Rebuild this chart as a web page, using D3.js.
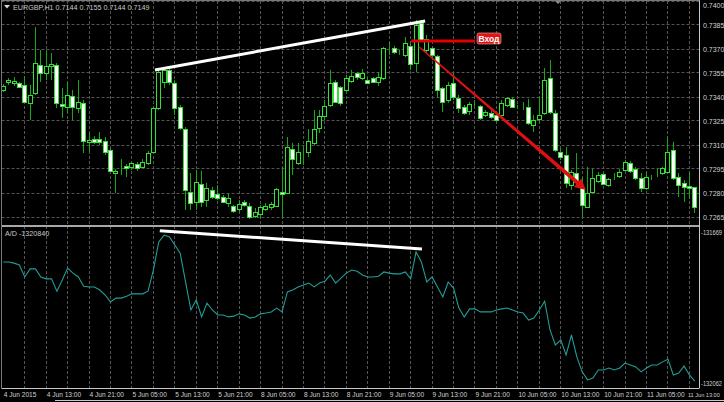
<!DOCTYPE html>
<html><head><meta charset="utf-8">
<script src="https://cdn.jsdelivr.net/npm/d3@7"></script>
<style>
html,body{margin:0;padding:0;background:#000;overflow:hidden}
svg{display:block}
text{font-family:"Liberation Sans",Arial,sans-serif}
</style></head><body>
<svg id="c" width="724" height="402"></svg>
<script>
// ---------------- DATA ----------------
const symbolTitle = "EURGBP,H1";
const quoteText = "0.7144 0.7155 0.7144 0.7149";
const indicatorLabel = "A/D -1320840";

// H1 candles [open, high, low, close], bar 0 = 4 Jun 2015 05:00
const candles = [
[0.73444,0.73481,0.73431,0.73469],[0.73494,0.73519,0.73475,0.73506],[0.73488,0.73525,0.73469,0.73500],[0.73488,0.73494,0.73456,0.73463],
[0.73475,0.73531,0.73363,0.73369],[0.73363,0.73475,0.73256,0.73412],[0.73425,0.73837,0.73412,0.73612],[0.73600,0.73694,0.73494,0.73550],
[0.73550,0.73694,0.73506,0.73594],[0.73594,0.73675,0.73506,0.73606],[0.73600,0.73612,0.73331,0.73363],[0.73356,0.73456,0.73269,0.73344],
[0.73338,0.73494,0.73300,0.73412],[0.73406,0.73444,0.73256,0.73338],[0.73331,0.73506,0.73300,0.73369],[0.73363,0.73381,0.73050,0.73125],
[0.73119,0.73175,0.73056,0.73131],[0.73138,0.73156,0.73106,0.73119],[0.73138,0.73181,0.73100,0.73119],[0.73125,0.73150,0.73038,0.73056],
[0.73069,0.73081,0.72931,0.72938],[0.72925,0.72950,0.72800,0.72938],[0.72950,0.73012,0.72913,0.72947],[0.72969,0.72981,0.72900,0.72959],
[0.72963,0.72994,0.72944,0.72988],[0.72981,0.72994,0.72938,0.72956],[0.72963,0.73012,0.72956,0.72994],[0.72988,0.73063,0.72975,0.73050],
[0.73056,0.73338,0.73050,0.73331],[0.73331,0.73569,0.73319,0.73556],[0.73494,0.73581,0.73456,0.73569],[0.73569,0.73581,0.73475,0.73494],
[0.73488,0.73506,0.73288,0.73331],[0.73338,0.73350,0.73194,0.73206],[0.73200,0.73212,0.72694,0.72819],[0.72806,0.72925,0.72694,0.72738],
[0.72744,0.72944,0.72694,0.72869],[0.72856,0.72938,0.72713,0.72744],[0.72756,0.72863,0.72713,0.72831],[0.72819,0.72838,0.72763,0.72775],
[0.72794,0.72850,0.72756,0.72769],[0.72775,0.72788,0.72738,0.72744],[0.72738,0.72800,0.72713,0.72769],[0.72719,0.72725,0.72675,0.72688],
[0.72700,0.72756,0.72681,0.72731],[0.72744,0.72756,0.72713,0.72725],[0.72719,0.72738,0.72638,0.72650],[0.72656,0.72706,0.72644,0.72681],
[0.72669,0.72725,0.72644,0.72713],[0.72700,0.72738,0.72688,0.72719],[0.72713,0.72744,0.72694,0.72731],[0.72719,0.72831,0.72713,0.72825],
[0.72806,0.72963,0.72644,0.72794],[0.72800,0.73150,0.72794,0.73088],[0.73075,0.73113,0.72913,0.73012],[0.72988,0.73113,0.72975,0.73056],
[0.73050,0.73094,0.72975,0.73050],[0.73056,0.73200,0.73025,0.73125],[0.73113,0.73319,0.73100,0.73200],[0.73206,0.73319,0.73175,0.73281],
[0.73281,0.73381,0.73256,0.73344],[0.73350,0.73569,0.73338,0.73488],[0.73494,0.73506,0.73363,0.73369],[0.73463,0.73469,0.73344,0.73363],
[0.73444,0.73538,0.73431,0.73519],[0.73500,0.73569,0.73488,0.73531],[0.73550,0.73556,0.73506,0.73525],[0.73519,0.73575,0.73506,0.73550],
[0.73506,0.73525,0.73481,0.73488],[0.73519,0.73525,0.73488,0.73494],[0.73494,0.73556,0.73469,0.73525],[0.73519,0.73713,0.73506,0.73706],
[0.73694,0.73744,0.73663,0.73691],[0.73706,0.73719,0.73669,0.73681],[0.73675,0.73694,0.73663,0.73675],[0.73663,0.73775,0.73650,0.73738],
[0.73719,0.73738,0.73569,0.73606],[0.73612,0.73881,0.73556,0.73850],[0.73863,0.73881,0.73744,0.73756],[0.73694,0.73788,0.73675,0.73763],
[0.73706,0.73713,0.73631,0.73663],[0.73656,0.73663,0.73400,0.73444],[0.73456,0.73463,0.73306,0.73369],[0.73381,0.73494,0.73363,0.73475],
[0.73488,0.73550,0.73381,0.73400],[0.73394,0.73412,0.73300,0.73331],[0.73338,0.73350,0.73288,0.73300],[0.73313,0.73369,0.73288,0.73356],
[0.73363,0.73381,0.73338,0.73363],[0.73344,0.73350,0.73256,0.73269],[0.73288,0.73319,0.73275,0.73306],[0.73300,0.73313,0.73263,0.73275],
[0.73288,0.73300,0.73244,0.73256],[0.73288,0.73381,0.73275,0.73363],[0.73350,0.73400,0.73338,0.73394],[0.73388,0.73400,0.73331,0.73338],
[0.73338,0.73350,0.73325,0.73338],[0.73344,0.73369,0.73319,0.73344],[0.73338,0.73388,0.73225,0.73238],[0.73225,0.73288,0.73181,0.73256],
[0.73263,0.73400,0.73238,0.73288],[0.73300,0.73581,0.73288,0.73506],[0.73519,0.73631,0.73294,0.73306],[0.73300,0.73319,0.73056,0.73069],
[0.73056,0.73081,0.73006,0.73025],[0.73038,0.73088,0.72831,0.72863],[0.72850,0.72944,0.72819,0.72931],[0.72925,0.73050,0.72850,0.72869],
[0.72831,0.72900,0.72650,0.72725],[0.72713,0.72963,0.72706,0.72800],[0.72806,0.72950,0.72800,0.72894],[0.72875,0.72931,0.72863,0.72913],
[0.72919,0.72925,0.72850,0.72856],[0.72850,0.72894,0.72838,0.72888],[0.72900,0.72925,0.72881,0.72900],[0.72906,0.72950,0.72894,0.72931],
[0.72944,0.73006,0.72938,0.72994],[0.72988,0.73000,0.72925,0.72938],[0.72950,0.72963,0.72881,0.72894],[0.72894,0.72925,0.72806,0.72831],
[0.72831,0.72931,0.72819,0.72900],[0.72906,0.72913,0.72881,0.72906],[0.72925,0.72950,0.72900,0.72925],[0.72925,0.72963,0.72913,0.72956],
[0.72931,0.73150,0.72925,0.73056],[0.73069,0.73119,0.72881,0.72894],[0.72900,0.72925,0.72775,0.72850],[0.72863,0.72881,0.72744,0.72838],
[0.72844,0.72931,0.72769,0.72831],[0.72838,0.72838,0.72675,0.72713]
];

// Accumulation/Distribution values per bar
const adValues = [
-131747,-131747,-131750,-131755,-131786,-131765,-131765,-131786,-131791,-131791,
-131823,-131794,-131763,-131776,-131786,-131810,-131812,-131812,-131820,-131833,
-131851,-131841,-131841,-131836,-131830,-131830,-131830,-131823,-131768,-131695,
-131677,-131682,-131703,-131724,-131799,-131872,-131846,-131890,-131854,-131872,
-131885,-131885,-131890,-131888,-131882,-131885,-131893,-131890,-131882,-131880,
-131877,-131867,-131877,-131825,-131820,-131812,-131807,-131802,-131812,-131802,
-131797,-131781,-131802,-131789,-131776,-131768,-131771,-131781,-131786,-131786,
-131784,-131773,-131776,-131778,-131778,-131773,-131791,-131721,-131747,-131799,
-131786,-131812,-131838,-131799,-131815,-131867,-131890,-131869,-131869,-131877,
-131877,-131877,-131872,-131869,-131867,-131872,-131877,-131880,-131898,-131893,
-131872,-131849,-131924,-131963,-131950,-131989,-131937,-131994,-132033,-132054,
-132049,-132028,-132028,-132023,-132028,-132023,-132010,-132015,-132020,-132033,
-132023,-132015,-132015,-132007,-132000,-132041,-132036,-132018,-132041,-132057
];

const priceTicks = ["0.7400","0.7385","0.7370","0.7355","0.7340","0.7325","0.7310","0.7295","0.7280","0.7265"];
const adTicks = [-131669, -132062];
const timeLabels = ["4 Jun 2015","4 Jun 13:00","4 Jun 21:00","5 Jun 05:00","5 Jun 13:00","5 Jun 21:00",
  "8 Jun 05:00","8 Jun 13:00","8 Jun 21:00","9 Jun 05:00","9 Jun 13:00","9 Jun 21:00",
  "10 Jun 05:00","10 Jun 13:00","10 Jun 21:00","11 Jun 05:00","11 Jun 13:00"];
const barsPerLabel = 8;
const barsPerGrid = 4;

// Drawn annotations (bar index, value)
const priceTrend = [[28.3, 0.73569],[78.7, 0.73875]];
const entryLine = [[76.1, 0.73750],[88.0, 0.73750]];
const entryText = "Вход";
const arrowLine = [[77.6, 0.73713],[108.7, 0.72819]];
const adTrend = [[29.2, -131666],[78.1, -131713]];

// ---------------- CHART ----------------
const svg = d3.select("#c");
const left = 1.5, right = 699.5, topY = 1, sepY = 226, adTop = 229, bottomY = 388;

const x = d3.scaleLinear().domain([0, 128]).range([3.3, 689.4]);
const yP = d3.scaleLinear().domain([0.7265, 0.7400]).range([217, 1]);
const yA = d3.scaleLinear().domain([-132062, -131669]).range([383, 232]);
const px = v => Math.floor(v) + 0.5;

svg.append("rect").attr("width",724).attr("height",402).attr("fill","#000");

const defs = svg.append("defs");
defs.append("clipPath").attr("id","cpTop").append("rect")
  .attr("x",left).attr("y",topY).attr("width",right-left).attr("height",sepY-topY-1);
defs.append("clipPath").attr("id","cpAd").append("rect")
  .attr("x",left).attr("y",adTop).attr("width",right-left).attr("height",bottomY-adTop);

const gridColor = "#555";
// horizontal grid (price panel)
svg.append("g").selectAll("line").data(priceTicks).join("line")
  .attr("x1",left).attr("x2",right)
  .attr("y1",d=>px(yP(+d))).attr("y2",d=>px(yP(+d)))
  .attr("stroke",gridColor).attr("stroke-dasharray","3,2");
// vertical grid
const gridIdx = d3.range(barsPerGrid, 130, barsPerGrid);
svg.append("g").selectAll("line").data(gridIdx).join("line")
  .attr("x1",d=>px(x(d))).attr("x2",d=>px(x(d)))
  .attr("y1",topY).attr("y2",bottomY)
  .attr("stroke",gridColor).attr("stroke-dasharray","3,2");

// candles
const cg = svg.append("g").attr("clip-path","url(#cpTop)");
const wickColor = "#17a817", edgeColor = "#35e035";
cg.selectAll("line.w").data(candles).join("line").attr("class","w")
  .attr("x1",(d,i)=>px(x(i))).attr("x2",(d,i)=>px(x(i)))
  .attr("y1",d=>yP(d[1])).attr("y2",d=>yP(d[2]))
  .attr("stroke",wickColor).attr("stroke-width",1);
cg.selectAll("rect.b").data(candles).join("rect").attr("class","b")
  .attr("x",(d,i)=>Math.floor(x(i))-1.5)
  .attr("y",d=>Math.round(yP(Math.max(d[0],d[3])))+0.5)
  .attr("width",4)
  .attr("height",d=>Math.max(0, Math.round(yP(Math.min(d[0],d[3]))) - Math.round(yP(Math.max(d[0],d[3])))))
  .attr("fill",d=> d[3] >= d[0] ? "#000" : "#fff")
  .attr("stroke",edgeColor).attr("stroke-width",1);

// A/D line
const ag = svg.append("g").attr("clip-path","url(#cpAd)");
ag.append("path").datum(adValues)
  .attr("d", d3.line().x((d,i)=>x(i)).y(d=>yA(d)))
  .attr("fill","none").attr("stroke","#1f9e98").attr("stroke-width",1.1);

// panel frame
svg.append("rect").attr("x",left-0.5).attr("y",sepY-1).attr("width",right-left+0.5).attr("height",2).attr("fill","#a8a8a8");
svg.append("line").attr("x1",right).attr("x2",right).attr("y1",0).attr("y2",bottomY).attr("stroke","#c8c8c8");
svg.append("line").attr("x1",left).attr("x2",left).attr("y1",0).attr("y2",bottomY).attr("stroke","#7a7a7a");
svg.append("line").attr("x1",left).attr("x2",right).attr("y1",0.5).attr("y2",0.5).attr("stroke","#7a7a7a");
svg.append("line").attr("x1",left).attr("x2",right).attr("y1",bottomY+0.5).attr("y2",bottomY+0.5).attr("stroke","#c8c8c8");
svg.append("line").attr("x1",55).attr("x2",724).attr("y1",400.5).attr("y2",400.5).attr("stroke","#c8c8c8");

// annotations
const lineP = d3.line().x(d=>x(d[0])).y(d=>yP(d[1]));
const lineA = d3.line().x(d=>x(d[0])).y(d=>yA(d[1]));
svg.append("path").attr("d",lineP(priceTrend)).attr("stroke","#fff").attr("stroke-width",3).attr("fill","none");
svg.append("path").attr("d",lineA(adTrend)).attr("stroke","#fff").attr("stroke-width",3).attr("fill","none");
svg.append("path").attr("d",lineP(entryLine)).attr("stroke","#e00000").attr("stroke-width",3).attr("fill","none");

// arrow (tapered)
{
  const x0=x(arrowLine[0][0]), y0=yP(arrowLine[0][1]), x1=x(arrowLine[1][0]), y1=yP(arrowLine[1][1]);
  const dx=x1-x0, dy=y1-y0, L=Math.hypot(dx,dy), ux=dx/L, uy=dy/L, nx=-uy, ny=ux;
  const headLen=11, headW=5.5, w0=0.7, w1=1.9;
  const bx=x1-ux*headLen, by=y1-uy*headLen;
  const pts=[[x0+nx*w0,y0+ny*w0],[bx+nx*w1,by+ny*w1],[bx+nx*headW,by+ny*headW],[x1,y1],
             [bx-nx*headW,by-ny*headW],[bx-nx*w1,by-ny*w1],[x0-nx*w0,y0-ny*w0]];
  svg.append("polygon").attr("points",pts.map(p=>p.join(",")).join(" ")).attr("fill","#e01010");
}

// entry label
{
  const lx = x(entryLine[1][0]) + 2, ly = yP(entryLine[1][1]);
  svg.append("rect").attr("x",lx).attr("y",ly-8).attr("width",24).attr("height",11).attr("rx",2)
    .attr("fill","#e01515").attr("stroke","#f0b0b0").attr("stroke-width",0.6);
  svg.append("text").attr("x",lx+12).attr("y",ly+0.8).attr("text-anchor","middle")
    .attr("font-size",8.5).attr("font-weight","bold").attr("fill","#fff").text(entryText);
}

// header
svg.append("path").attr("d","M4,5 L10,5 L7,8.5 Z").attr("fill","#d8d8d8");
svg.append("text").attr("x",13).attr("y",10).attr("font-size",7.2).attr("fill","#c8c8c8")
  .text(symbolTitle + "   " + quoteText);
svg.append("text").attr("x",5).attr("y",236).attr("font-size",7.2).attr("fill","#c8c8c8").text(indicatorLabel);
// small shift marker
svg.append("path").attr("d","M555,1 L561,1 L558,4 Z").attr("fill","#8a8a8a");

// right axis labels
svg.append("g").selectAll("text").data(priceTicks).join("text")
  .attr("x",703).attr("y",d=>Math.max(8, yP(+d)+2.5)).attr("font-size",7).attr("fill","#d0d0d0").text(d=>d);
svg.append("g").selectAll("text").data(adTicks).join("text")
  .attr("x",701).attr("y",d=>yA(d)+2.5).attr("font-size",6.6)
  .attr("textLength",21).attr("lengthAdjust","spacingAndGlyphs")
  .attr("fill","#d0d0d0").text(d=>d);

// time labels
const lastIdx = timeLabels.length - 1;
svg.append("g").selectAll("text").data(timeLabels).join("text")
  .attr("x",(d,i)=>x(i*barsPerLabel) + (i === lastIdx ? -1.5 : 0.5))
  .attr("y",397)
  .attr("font-size",(d,i)=> i === lastIdx ? 5.6 : 6.6)
  .attr("fill","#d0d0d0")
  .text(d=>d);
</script></body></html>
